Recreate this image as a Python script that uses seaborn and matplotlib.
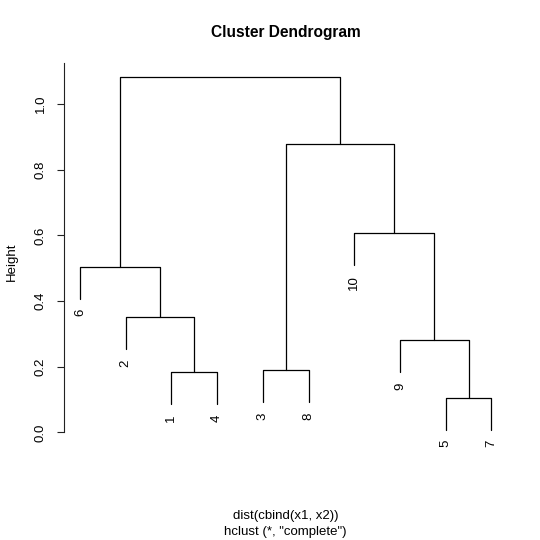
import numpy as np
import pandas as pd
import matplotlib
matplotlib.use("Agg")
import matplotlib.pyplot as plt
import seaborn as sns

# hclust result, R style: negative = observation, positive = earlier merge step
merge_a = [-5, -1, -3, -9, -2, -6, -10, 3, 6]
merge_b = [-7, -4, -8, 1, 2, 5, 4, 7, 8]
heights = [0.106, 0.183, 0.189, 0.282, 0.351, 0.505, 0.607, 0.877, 1.081]
leaf_order = [6, 2, 1, 4, 3, 8, 10, 9, 5, 7]
hang = 0.1

yticks = [0.0, 0.2, 0.4, 0.6, 0.8, 1.0]


def build_segments():
    leaf_x = {obs: i + 1 for i, obs in enumerate(leaf_order)}
    drop = hang * (max(heights) - min(heights))
    node_x, rows, leaves = {}, [], []
    seg = 0
    for step, (a, b, h) in enumerate(zip(merge_a, merge_b, heights), start=1):
        pts = []
        for child in (a, b):
            if child < 0:
                x, y = leaf_x[-child], h - drop
                leaves.append((x, y, str(-child)))
            else:
                x, y = node_x[child], heights[child - 1]
            pts.append((x, y))
        (xa, ya), (xb, yb) = pts
        path = [(xa, ya), (xa, h), (xb, h), (xb, yb)]
        for k, (x, y) in enumerate(path):
            rows.append({"seg": seg, "order": k, "x": x, "y": y})
        seg += 1
        node_x[step] = (xa + xb) / 2
    return pd.DataFrame(rows), leaves


segments, leaves = build_segments()

sns.set_theme(style="white")
plt.rcParams["font.family"] = ["Liberation Sans", "DejaVu Sans"]
plt.rcParams["text.color"] = "black"

fig = plt.figure(figsize=(5.4, 5.4), dpi=100)
ax = fig.add_axes([0.1176, 0.1787, 0.8228, 0.7041])

sns.lineplot(data=segments, x="x", y="y", units="seg", estimator=None,
             sort=False, color="black", linewidth=0.9, ax=ax, legend=False)

for x, y, lab in leaves:
    ax.annotate(lab, (x, y), xytext=(0, -7.5), textcoords="offset points",
                rotation=90, ha="center", va="top", fontsize=9.5, color="black")

ax.set_xlim(0.64, 10.36)
ax.set_ylim(-0.034, 1.124)
ax.set_xticks([])
ax.set_yticks(yticks)
ax.set_yticklabels([f"{t:.1f}" for t in yticks])
for lbl in ax.get_yticklabels():
    lbl.set_rotation(90)
    lbl.set_va("center")
ax.tick_params(axis="y", length=5, width=0.8, pad=7, labelsize=9.5,
               left=True, colors="#222222", labelcolor="black")
ax.set_xlabel("")
ax.set_ylabel("")
sns.despine(ax=ax, bottom=True)
ax.spines["left"].set_bounds(0.0, 1.124)
ax.spines["left"].set_color("#222222")
ax.spines["left"].set_linewidth(0.8)

fig.text(285.6 / 540, 1 - 32 / 540, "Cluster Dendrogram", ha="center",
         va="center", fontsize=11.2, fontweight="bold", color="black")
fig.text(12 / 540, 1 - 262 / 540, "Height", ha="center", va="center",
         rotation=90, fontsize=9.5, color="black")
fig.text(285.6 / 540, 1 - 516 / 540, "dist(cbind(x1, x2))", ha="center",
         va="center", fontsize=9.5, color="black")
fig.text(285.6 / 540, 1 - 532 / 540, 'hclust (*, "complete")', ha="center",
         va="center", fontsize=9.5, color="black")

fig.savefig("out.png", dpi=100, facecolor="white")
